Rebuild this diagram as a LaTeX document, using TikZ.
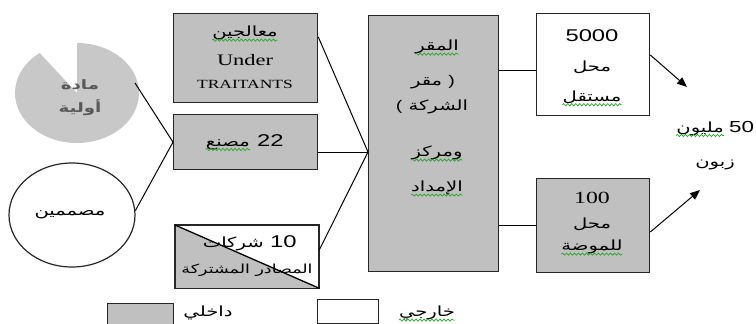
\documentclass[tikz,border=0pt]{standalone}
\usepackage{fontspec}
\usetikzlibrary{calc,arrows.meta,decorations.pathmorphing,shapes.geometric}
\TeXXeTstate=1
\newfontfamily\arf[Script=Arabic,FakeStretch=1.4]{DejaVu Sans}
\newfontfamily\serf[FakeStretch=1.4]{Liberation Serif}
\newfontfamily\sanf[FakeStretch=1.4]{Liberation Sans}
\definecolor{boxgray}{RGB}{192,192,192}
\definecolor{piegray}{RGB}{200,200,200}
\definecolor{squig}{RGB}{40,165,40}
\newcommand{\AR}[1]{\beginR #1\endR}
\tikzset{
  box/.style={draw=black!85, line width=1.3pt, fill=boxgray, inner sep=0pt, anchor=north west},
  wbox/.style={box, fill=white},
  ar/.style={font=\arf\fontsize{14}{16}\selectfont, inner sep=0pt},
  num/.style={font=\sanf\fontsize{17}{19}\selectfont, inner sep=0pt},
  ser/.style={font=\serf\fontsize{16}{18}\selectfont, inner sep=0pt},
  link/.style={draw=black, line width=1pt},
  arrowlink/.style={link, -{Triangle[length=10pt,width=8pt]}},
  squiggle/.style={draw=squig, line width=0.7pt, decorate,
    decoration={snake, amplitude=1.1pt, segment length=4pt}},
}
\newcommand{\squig}[1]{\draw[squiggle] ($(#1.base west)+(0,3.5)$) -- ($(#1.base east)+(0,3.5)$);}
\begin{document}
\begin{tikzpicture}[x=1pt,y=-1pt]
\useasboundingbox (0,0) rectangle (756,324);

% raw material pie
\fill[piegray] (77,93) -- (77,43) arc[start angle=-90, end angle=233, x radius=62, y radius=50] -- cycle;
\node[ar, font=\arf\bfseries\fontsize{13}{15}\selectfont, text=black!65] (pm1) at (80,85) {\AR{مادة}};
\node[ar, font=\arf\bfseries\fontsize{13}{15}\selectfont, text=black!65] (pm2) at (80,108) {\AR{أولية}};
\coordinate (pieR) at (135,83);

% designers ellipse
\node[draw=black!85, line width=1.2pt, ellipse, minimum width=126pt, minimum height=104pt] (des) at (72,215) {};
\node[ar] (dest) at (70,215) {\AR{مصممين}};

% left boxes
\node[box, minimum width=144pt, minimum height=89pt] (b1) at (173,13) {};
\node[ar] (b1a) at (245,33) {\AR{معالجين}};
\node[ser] (b1b) at (245,60) {Under};
\node[ser, font=\serf\fontsize{12.5}{14}\selectfont] (b1c) at (245,84) {TRAITANTS};

\node[box, minimum width=144pt, minimum height=55pt] (b22) at (173,114) {};
\node[ar, anchor=base east] (b22w) at (250,146) {\AR{مصنع}};
\node[num, anchor=base west] (b22n) at (257,146) {22};

\node[wbox, minimum width=143pt, minimum height=62pt] (b10) at (175,225) {};
\fill[boxgray] (b10.north west) -- (b10.south east) -- (b10.south west) -- cycle;
\draw[black!85, line width=1.3pt] (b10.north west) rectangle (b10.south east);
\draw[black, line width=1.3pt] (b10.north west) -- (b10.south east);
\node[ar, anchor=base east] (b10w) at (264,247) {\AR{شركات}};
\node[num, anchor=base west] (b10n) at (270,247) {10};
\node[ar, font=\arf\fontsize{12.5}{14}\selectfont] (b10b) at (247,270) {\AR{المصادر المشتركة}};

% hub
\node[box, minimum width=130pt, minimum height=256pt] (hub) at (368,15) {};
\node[ar] (h1) at (437,47) {\AR{المقر}};
\node[ar] (h2) at (433,82) {\AR{مقر}\ {\sanf)}};
\node[ar] (h3) at (432,107) {{\sanf(}\ \AR{الشركة}};
\node[ar] (h4) at (437,153) {\AR{ومركز}};
\node[ar] (h5) at (437,188) {\AR{الإمداد}};
\coordinate (hubin) at ($(hub.north west)+(0,137)$);

% right boxes
\node[wbox, minimum width=113pt, minimum height=102pt] (b5k) at (536,13) {};
\node[num] (b5ka) at (592,36) {5000};
\node[ar] (b5kb) at (592,67) {\AR{محل}};
\node[ar] (b5kc) at (592,97) {\AR{مستقل}};

\node[box, minimum width=113pt, minimum height=94pt] (b100) at (536,178) {};
\node[ser, font=\serf\fontsize{17}{19}\selectfont] (b100a) at (592,198) {100};
\node[ar] (b100b) at (592,224) {\AR{محل}};
\node[ar] (b100c) at (592,247) {\AR{للموضة}};

% clients
\node[ar, anchor=base east] (cw) at (724,132) {\AR{مليون}};
\node[num, font=\sanf\fontsize{16}{18}\selectfont, anchor=base west] (cn) at (729,132) {50};
\node[ar] (cz) at (715,165) {\AR{زبون}};
\coordinate (a1) at (687,87);
\coordinate (a2) at (700,190);

% legend
\node[box, minimum width=66pt, minimum height=21pt] (lg1) at (107,303) {};
\node[ar] (lg1t) at (208,313) {\AR{داخلي}};
\node[wbox, minimum width=61pt, minimum height=24pt] (lg2) at (317,299) {};
\node[ar] (lg2t) at (427,313) {\AR{خارجي}};

% connectors
\draw[link] (pieR) -- (b22.west);
\draw[link] (des.4) -- (b22.west);
\draw[link] ($(b1.north east)+(0,24)$) -- (hubin);
\draw[link] (b22.east |- hubin) -- (hubin);
\draw[link] ($(b10.north east)+(0,25)$) -- (hubin);
\draw[link] ($(hub.north east)+(0,55)$) -- ($(b5k.north west)+(0,57)$);
\draw[link] ($(hub.north east)+(0,210)$) -- ($(b100.north west)+(0,47)$);
\draw[arrowlink] ($(b5k.north east)+(0,42)$) -- (a1);
\draw[arrowlink] ($(b100.north east)+(0,54)$) -- (a2);

% spelling squiggles
\squig{b1a}
\squig{b22w}
\squig{h1}
\squig{h4}
\squig{h5}
\squig{b5kc}
\squig{b100c}
\squig{cw}
\squig{lg2t}
\end{tikzpicture}
\end{document}
